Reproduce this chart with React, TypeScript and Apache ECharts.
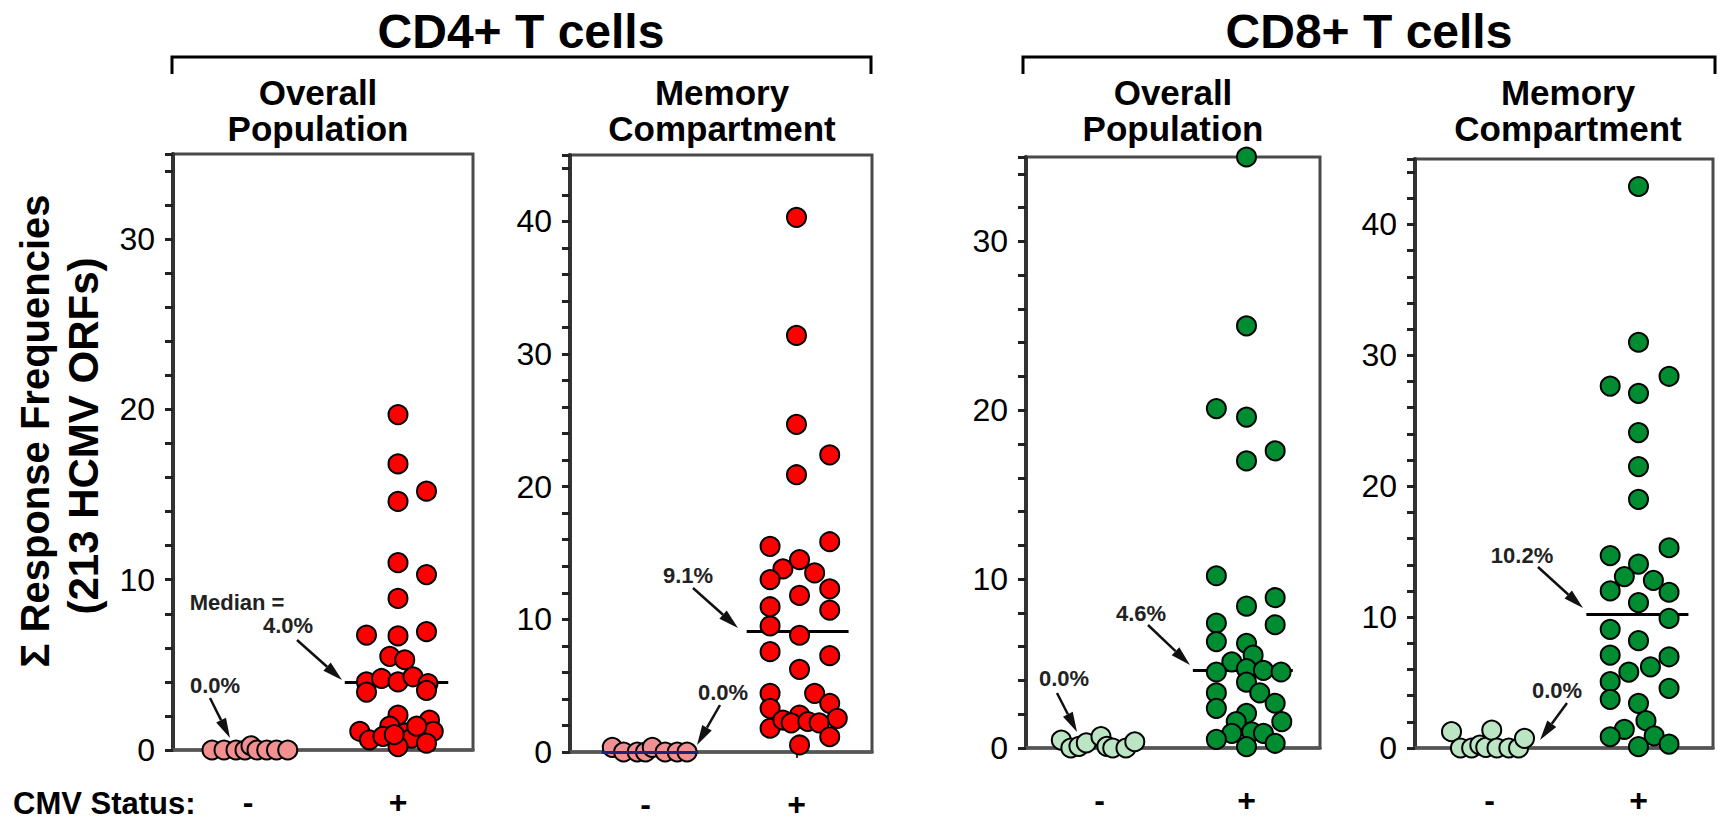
import React, { useEffect, useRef } from "react";
import * as echarts from "echarts";

const FONT = '"Liberation Sans", Arial, Helvetica, sans-serif';

// ---------- texts ----------
const groupTitles = ["CD4+ T cells", "CD8+ T cells"];
const panelSubtitles = [
  ["Overall", "Population"],
  ["Memory", "Compartment"],
  ["Overall", "Population"],
  ["Memory", "Compartment"],
];
const yAxisTitle = ["\u03A3 Response Frequencies", "(213 HCMV ORFs)"];
const statusTitle = "CMV Status:";
const xCategoryLabels: Record<number, string> = { 1: "-", 3: "+" };
const yAxisMax = [35, 45, 35, 45];

// ---------- data: [jittered x (category - at 1, + at 3), response frequency] ----------
const cd4OverallNeg = [
  [0.52, 0], [0.68, 0], [0.84, 0], [0.96, 0], [1.04, 0.25], [1.12, 0], [1.25, 0], [1.38, 0], [1.53, 0],
];
const cd4OverallPos = [
  [3.0, 19.7], [3.0, 16.8], [3.38, 15.2], [3.0, 14.6], [3.0, 11.0], [3.38, 10.3], [3.0, 8.9],
  [2.58, 6.75], [3.0, 6.7], [3.38, 6.95], [2.89, 5.5], [3.09, 5.3], [2.58, 4.0], [2.78, 4.2],
  [3.0, 4.0], [3.2, 4.3], [3.4, 3.9], [2.58, 3.4], [3.38, 3.5], [3.0, 2.05], [3.42, 1.76],
  [2.49, 1.1], [2.89, 1.4], [3.47, 1.1], [2.62, 0.6], [2.8, 0.8], [3.1, 1.0], [3.18, 0.7],
  [3.38, 0.4], [3.0, 0.2], [2.95, 0.9], [3.25, 1.4],
];
const cd4MemoryNeg = [
  [0.56, 0.35], [0.71, 0], [0.89, 0], [1.0, 0], [1.09, 0.35], [1.26, 0], [1.42, 0], [1.55, 0],
];
const cd4MemoryPos = [
  [3.0, 40.3], [3.0, 31.4], [3.0, 24.7], [3.44, 22.4], [3.0, 20.9], [2.65, 15.5], [3.44, 15.85],
  [2.82, 13.8], [3.04, 14.5], [3.24, 13.5], [2.65, 13.0], [3.44, 12.3], [3.04, 11.8], [2.65, 10.95],
  [3.44, 10.7], [2.65, 9.5], [3.04, 8.8], [2.65, 7.56], [3.44, 7.26], [3.04, 6.23], [2.65, 4.42],
  [3.24, 4.42], [2.65, 3.29], [3.44, 3.67], [3.04, 2.79], [3.54, 2.54], [2.65, 1.79], [2.82, 2.41],
  [2.93, 2.2], [3.15, 2.3], [3.3, 2.2], [3.44, 1.15], [3.04, 0.53],
];
const cd8OverallNeg = [
  [0.48, 0.47], [0.61, 0], [0.72, 0.1], [0.82, 0.3], [1.02, 0.67], [1.1, 0.1], [1.18, 0], [1.36, 0], [1.48, 0.37],
];
const cd8OverallPos = [
  [3.0, 35], [3.0, 25.0], [2.59, 20.1], [3.0, 19.6], [3.39, 17.6], [3.0, 17.0], [2.59, 10.2],
  [3.0, 8.4], [3.39, 8.9], [3.39, 7.3], [2.59, 7.4], [2.59, 6.3], [3.0, 6.2], [3.09, 5.5],
  [2.8, 5.1], [2.59, 4.5], [3.0, 4.7], [3.23, 4.6], [3.47, 4.5], [3.0, 3.9], [2.59, 3.27],
  [3.18, 3.27], [2.59, 2.35], [3.39, 2.65], [3.0, 2.05], [2.86, 1.56], [3.48, 1.56], [2.8, 0.87],
  [3.07, 0.96], [3.23, 0.87], [2.59, 0.51], [3.39, 0.28], [3.0, 0.08],
];
const cd8MemoryNeg = [
  [0.49, 1.25], [0.61, 0], [0.76, 0], [0.87, 0.23], [0.95, 0.05], [1.03, 1.37], [1.1, 0], [1.26, 0], [1.39, 0], [1.47, 0.74],
];
const cd8MemoryPos = [
  [3.0, 42.9], [3.0, 31.0], [3.41, 28.4], [2.62, 27.65], [3.0, 27.1], [3.0, 24.1], [3.0, 21.5],
  [3.0, 19.0], [3.41, 15.3], [2.62, 14.7], [3.0, 14.05], [2.81, 13.1], [3.2, 12.8], [2.62, 12.0],
  [3.41, 11.9], [3.0, 11.1], [3.41, 9.9], [2.62, 9.07], [3.0, 8.2], [2.62, 7.1], [3.41, 6.97],
  [3.16, 6.2], [2.87, 5.8], [2.62, 5.07], [3.41, 4.56], [2.62, 3.72], [3.0, 3.41], [3.1, 2.09],
  [2.81, 1.43], [2.62, 0.86], [3.21, 0.92], [3.41, 0.3], [3.0, 0.1],
];
const negMedians = [0, 0, 0, 0];
const posMedians = [4.0, 9.1, 4.6, 10.2];
const posMedianLabels = ["4.0%", "9.1%", "4.6%", "10.2%"];
const negMedianLabel = "0.0%";

const negData = [cd4OverallNeg, cd4MemoryNeg, cd8OverallNeg, cd8MemoryNeg];
const posData = [cd4OverallPos, cd4MemoryPos, cd8OverallPos, cd8MemoryPos];

// ---------- layout / style ----------
const grids = [
  { left: 173, top: 154, width: 300, height: 596 },
  { left: 570, top: 155, width: 302, height: 597 },
  { left: 1026, top: 157, width: 294, height: 591 },
  { left: 1415, top: 159, width: 298, height: 589 },
];
const posMedianSpan = [[2.29, 3.67], [2.34, 3.69], [2.27, 3.63], [2.3, 3.67]];
const negColors = ["#f29090", "#f29090", "#bce6c3", "#bce6c3"];
const posColors = ["#ff0000", "#ff0000", "#008c30", "#008c30"];
const subtitleCenters = [318, 722, 1173, 1568];

function arrow(x1: number, y1: number, x2: number, y2: number) {
  const dx = x2 - x1, dy = y2 - y1;
  const len = Math.sqrt(dx * dx + dy * dy);
  const ux = dx / len, uy = dy / len;
  const hl = 20, hw = 5.5;
  const bx = x2 - ux * hl, by = y2 - uy * hl;
  return [
    { type: "line", shape: { x1, y1, x2: bx, y2: by }, style: { stroke: "#111", lineWidth: 2.5 }, z: 100 },
    {
      type: "polygon",
      shape: { points: [[x2, y2], [bx - uy * hw, by + ux * hw], [bx + uy * hw, by - ux * hw]] },
      style: { fill: "#111" },
      z: 100,
    },
  ];
}

function txt(text: string, x: number, y: number, size: number, weight: string, opts: any = {}) {
  return {
    type: "text",
    x,
    y,
    rotation: opts.rotation || 0,
    z: 100,
    style: {
      text,
      fontSize: size,
      fontWeight: weight,
      fontFamily: FONT,
      lineHeight: opts.lineHeight || size,
      fill: opts.fill || "#000",
      align: opts.align || "center",
      verticalAlign: "middle",
    },
  };
}

export default function App() {
  const ref = useRef<HTMLDivElement>(null);
  useEffect(() => {
    if (!ref.current) return;
    const chart = echarts.init(ref.current, null, { renderer: "svg" });

    const xAxis = grids.map((_, i) => ({
      gridIndex: i,
      type: "value",
      min: 0,
      max: 4,
      interval: 1,
      splitLine: { show: false },
      axisLine: { show: true, onZero: false, lineStyle: { color: "#555", width: 3.5 } },
      axisTick: { show: true, customValues: [1, 3], length: 6, lineStyle: { color: "#333", width: 2 } },
      axisLabel: {
        customValues: [1, 3],
        formatter: (v: number) => xCategoryLabels[v] ?? "",
        margin: 52,
        fontSize: 32,
        lineHeight: 24,
        verticalAlign: "middle",
        fontWeight: "bold",
        fontFamily: FONT,
        color: "#000",
      },
    }));
    const yAxis = grids.map((_, i) => ({
      gridIndex: i,
      type: "value",
      min: 0,
      max: yAxisMax[i],
      interval: 2,
      splitLine: { show: false },
      axisLine: { show: true, onZero: false, lineStyle: { color: "#333", width: 4 } },
      axisTick: { show: true, length: 8, lineStyle: { color: "#222", width: 3 } },
      axisLabel: {
        formatter: (v: number) => (v % 10 === 0 ? String(v) : ""),
        fontSize: 32,
        fontFamily: FONT,
        color: "#000",
        margin: 18,
      },
    }));

    const series: any[] = [];
    grids.forEach((_, i) => {
      series.push({
        type: "scatter",
        xAxisIndex: i,
        yAxisIndex: i,
        data: negData[i],
        symbolSize: 19,
        clip: false,
        z: 3,
        itemStyle: { color: negColors[i], borderColor: "#000", borderWidth: 2, opacity: 1 },
        markLine:
          i === 1
            ? {
                silent: true,
                symbol: ["none", "none"],
                label: { show: false },
                lineStyle: { color: "#1a237e", width: 3, type: "solid" },
                data: [[{ coord: [0.42, negMedians[i]] }, { coord: [1.7, negMedians[i]] }]],
              }
            : undefined,
      });
      series.push({
        type: "scatter",
        xAxisIndex: i,
        yAxisIndex: i,
        data: posData[i],
        symbolSize: 19,
        clip: false,
        z: 4,
        itemStyle: { color: posColors[i], borderColor: "#000", borderWidth: 2, opacity: 1 },
        markLine: {
          silent: true,
          symbol: ["none", "none"],
          label: { show: false },
          z: 2,
          lineStyle: { color: "#000", width: 3, type: "solid" },
          data: [[{ coord: [posMedianSpan[i][0], posMedians[i]] }, { coord: [posMedianSpan[i][1], posMedians[i]] }]],
        },
      });
    });

    const graphic: any[] = [
      txt(groupTitles[0], 521, 31, 48, "bold"),
      txt(groupTitles[1], 1369, 31, 48, "bold"),
      {
        type: "polyline",
        shape: { points: [[172, 74], [172, 57], [871, 57], [871, 74]] },
        style: { stroke: "#000", lineWidth: 3, fill: null },
      },
      {
        type: "polyline",
        shape: { points: [[1023, 74], [1023, 57], [1715, 57], [1715, 74]] },
        style: { stroke: "#000", lineWidth: 3, fill: null },
      },
      txt(yAxisTitle[0], 35, 431, 40, "bold", { rotation: Math.PI / 2 }),
      txt(yAxisTitle[1], 83, 436, 42, "bold", { rotation: Math.PI / 2 }),
      txt(statusTitle, 13, 803, 31, "bold", { align: "left" }),
      // annotations
      txt("Median =", 237, 602, 22, "bold", { fill: "#222" }),
      txt(posMedianLabels[0], 288, 625, 22, "bold", { fill: "#222" }),
      ...arrow(297, 640, 342, 680),
      txt(negMedianLabel, 215, 685, 22, "bold", { fill: "#222" }),
      ...arrow(210, 698, 230, 738),
      txt(posMedianLabels[1], 688, 575, 22, "bold", { fill: "#222" }),
      ...arrow(693, 588, 738, 628),
      txt(negMedianLabel, 723, 692, 22, "bold", { fill: "#222" }),
      ...arrow(720, 705, 697, 745),
      txt(negMedianLabel, 1064, 678, 22, "bold", { fill: "#222" }),
      ...arrow(1057, 693, 1077, 732),
      txt(posMedianLabels[2], 1141, 613, 22, "bold", { fill: "#222" }),
      ...arrow(1148, 625, 1190, 665),
      txt(posMedianLabels[3], 1522, 555, 22, "bold", { fill: "#222" }),
      ...arrow(1538, 567, 1583, 608),
      txt(negMedianLabel, 1557, 690, 22, "bold", { fill: "#222" }),
      ...arrow(1567, 703, 1540, 740),
    ];
    panelSubtitles.forEach((lines, i) => {
      graphic.push(txt(lines[0], subtitleCenters[i], 92, 35, "bold"));
      graphic.push(txt(lines[1], subtitleCenters[i], 128, 35, "bold"));
    });

    chart.setOption({
      animation: false,
      backgroundColor: "#fff",
      grid: grids.map((g) => ({
        ...g,
        show: true,
        borderColor: "#4a4a4a",
        borderWidth: 3,
        backgroundColor: "transparent",
        containLabel: false,
      })),
      xAxis,
      yAxis,
      series,
      graphic,
    });
    return () => chart.dispose();
  }, []);
  return (
    <div
      ref={ref}
      style={{ position: "absolute", left: 0, top: 0, width: 1721, height: 822, background: "#fff" }}
    />
  );
}
